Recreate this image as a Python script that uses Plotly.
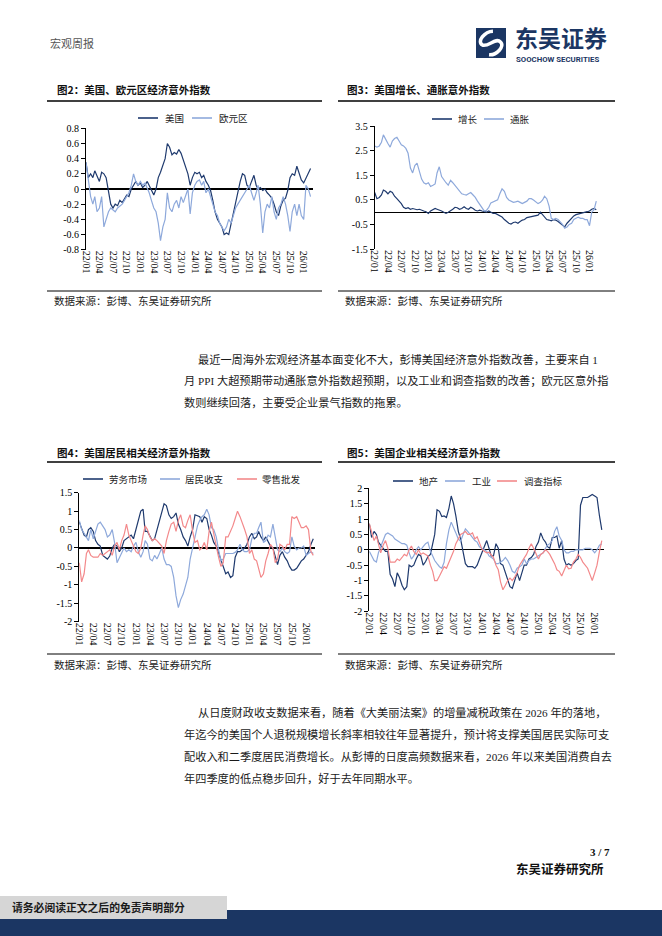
import math
import plotly.graph_objects as go

W, H = 662, 936
DARK = '#1F3A6E'
LIGHT = '#8EA9DB'
PINK = '#F3898B'
NAVY = '#1B3663'
SERIF = 'Liberation Serif, Noto Sans CJK SC, serif'
CJK = 'Noto Sans CJK SC, sans-serif'

# ---------------- data ----------------
dates = []
for i in range(100):
    mm = i // 2
    dates.append(f"{2022 + mm // 12}-{mm % 12 + 1:02d}-{1 if i % 2 == 0 else 16:02d}")

quarter_ticks = ['2022-01-01', '2022-04-01', '2022-07-01', '2022-10-01',
                 '2023-01-01', '2023-04-01', '2023-07-01', '2023-10-01',
                 '2024-01-01', '2024-04-01', '2024-07-01', '2024-10-01',
                 '2025-01-01', '2025-04-01', '2025-07-01', '2025-10-01',
                 '2026-01-01']
quarter_labels = ['22/01', '22/04', '22/07', '22/10', '23/01', '23/04', '23/07', '23/10',
                  '24/01', '24/04', '24/07', '24/10', '25/01', '25/04', '25/07', '25/10',
                  '26/01']

us_surprise = [0.35, 0.15, 0.2, 0.15, 0.24, 0.18, 0.1, 0.22, 0.2, 0.15,
               -0.05, -0.2, -0.25, -0.2, -0.22, -0.15, -0.18, -0.12, -0.08, -0.1,
               0.0, 0.05, 0.1, 0.05, 0.08, 0.02, 0.05, 0.1, 0.05, -0.02,
               -0.08, 0.0, 0.15, 0.22, 0.3, 0.4, 0.6, 0.55, 0.45, 0.48,
               0.46, 0.52, 0.47, 0.38, 0.3, 0.2, 0.05, 0.15, 0.22, 0.2,
               0.22, 0.15, 0.18, 0.1, 0.05, -0.02, -0.15, -0.3, -0.4, -0.45,
               -0.5, -0.6, -0.58, -0.6, -0.45, -0.35, -0.2, -0.05, 0.1, 0.2,
               0.18, 0.05, 0.02, 0.1, 0.18, 0.05, 0.0, 0.02, -0.02, 0.0,
               -0.05, -0.08, -0.12, -0.2, -0.3, -0.35, -0.22, -0.15, -0.12, -0.02,
               0.15, 0.2, 0.18, 0.3, 0.2, 0.12, 0.08, 0.15, 0.2, 0.27]
ea_surprise = [0.35, 0.15, -0.1, -0.2, -0.1, -0.3, -0.25, -0.1, -0.5, -0.4,
               -0.3, -0.25, -0.28, -0.3, -0.25, -0.22, -0.2, -0.15, -0.1, -0.05,
               0.05, 0.2, 0.1, 0.05, 0.1, 0.05, 0.08, 0.02, -0.05, -0.15,
               -0.25, -0.3, -0.45, -0.68, -0.5, -0.4, -0.05, -0.25, -0.3, -0.2,
               -0.15, -0.25, -0.1, -0.18, -0.1, 0.0, -0.33, -0.05, 0.05, 0.1,
               0.12, 0.05, 0.1, -0.05, 0.0, -0.1, -0.2, -0.3, -0.35, -0.45,
               -0.5, -0.55, -0.5, -0.4, -0.45, -0.35, -0.25, -0.2, -0.15, -0.1,
               -0.05, 0.0, 0.05, -0.05, -0.15, -0.05, 0.05, -0.2, -0.58, -0.3,
               -0.2, -0.25, -0.1, -0.3, -0.4, -0.25, -0.2, -0.1, -0.2, -0.35,
               -0.56, -0.3, -0.2, -0.35, -0.2, -0.35, -0.4, 0.05, 0.0, -0.1]
growth = [0.8, 0.55, 0.6, 0.7, 0.9, 0.85, 0.75, 0.85, 0.8, 0.65,
          0.55, 0.45, 0.35, 0.2, 0.15, 0.18, 0.12, 0.15, 0.12, 0.1,
          0.12, 0.1, 0.05, 0.02, -0.05, 0.05, 0.1, 0.15, 0.12, 0.1,
          0.05, 0.0, -0.05, 0.0, 0.05, 0.12, 0.2, 0.18, 0.12, 0.15,
          0.22, 0.15, 0.12, 0.2, 0.15, 0.08, 0.05, 0.08, 0.05, 0.02,
          0.0, 0.05, 0.0, -0.05, -0.05, -0.1, -0.15, -0.2, -0.3, -0.38,
          -0.45, -0.48, -0.42, -0.4, -0.45, -0.38, -0.32, -0.3, -0.22, -0.2,
          -0.18, -0.15, -0.15, -0.12, 0.0, -0.12, -0.2, -0.3, -0.32, -0.35,
          -0.3, -0.32, -0.38, -0.45, -0.55, -0.6, -0.45, -0.35, -0.25, -0.15,
          -0.1, -0.08, -0.05, -0.05, -0.02, 0.02, 0.05, 0.12, 0.15, 0.1]
inflation = [2.7, 2.65, 2.7, 2.85, 3.15, 2.95, 2.8, 2.65, 2.9, 3.0,
             3.05, 2.9, 2.75, 2.7, 2.6, 2.4, 1.8, 1.6, 1.9, 2.0,
             1.7, 1.35, 1.2, 1.15, 1.2, 1.05, 1.1, 1.15, 1.6, 1.85,
             1.45, 1.3, 1.2, 1.1, 1.3, 1.2, 1.1, 1.0, 0.85, 0.75,
             0.72, 0.7, 0.75, 0.8, 0.7, 0.6, 0.45, 0.3, 0.15, 0.05,
             0.08, 0.2, 0.38, 0.42, 0.45, 0.5, 0.75, 0.95, 0.85, 0.6,
             0.5, 0.45, 0.4, 0.42, 0.45, 0.4, 0.35, 0.4, 0.45, 0.55,
             0.55, 0.5, 0.4, 0.35, 0.4, 0.5, 0.65, 0.55, 0.25, -0.25,
             -0.3, -0.25, -0.3, -0.4, -0.5, -0.65, -0.6, -0.5, -0.45, -0.3,
             -0.25, -0.2, -0.25, -0.25, -0.3, -0.3, -0.55, 0.0, 0.1, 0.45]
labor = [0.7, 0.5, 0.35, 0.3, 0.5, 0.55, 0.45, 0.2, 0.1, 0.05,
         -0.2, -0.25, -0.3, -0.22, 0.0, 0.1, 0.05, -0.1, 0.0, 0.2,
         0.25, 0.3, 0.35, 0.25, 0.5, 0.8, 1.0, 1.05, 0.45, 0.45,
         0.3, 0.2, 0.25, 0.5, 0.75, 0.95, 1.2, 1.15, 0.9, 0.8,
         0.85, 0.95, 0.65, 0.5, 0.3, 0.2, 0.05, 0.3, 0.5, 0.9,
         0.88, 0.85, 0.7, 0.85, 0.8, 0.5, 0.35, 0.15, 0.05, -0.15,
         -0.3, -0.55, -0.7, -0.65, -0.8, -0.75, -0.25, -0.1, -0.1, -0.05,
         0.0, 0.1, 0.3, 0.4, 0.25, 0.3, 0.45, 0.3, 0.2, 0.3,
         0.15, 0.05, 0.0, -0.25, -0.45, -0.2, -0.1, -0.25, -0.35, -0.5,
         -0.6, -0.6, -0.55, -0.45, -0.35, -0.3, -0.2, -0.1, 0.1, 0.25]
income = [0.75, 0.5, 0.4, 0.3, 0.2, 0.5, 0.25, 0.45, 0.65, 0.7,
          0.6, 0.5, 0.3, 0.35, 0.5, 0.15, -0.4, -0.25, -0.1, 0.0,
          -0.1, -0.05, -0.1, 0.05, 0.15, -0.1, -0.25, -0.1, 0.2, 0.1,
          -0.3, -0.35, -0.2, -0.3, -0.15, 0.0, -0.3, -0.45, -0.45, -0.5,
          -0.8, -1.3, -1.62, -1.4, -1.25, -1.05, -0.8, -0.3, 0.0, 0.3,
          0.6, 0.75, 0.85, 0.9, 1.05, 0.9, 0.55, 0.5, 0.3, -0.05,
          -0.35, -0.3, -0.15, -0.15, -0.15, -0.15, -0.12, -0.05, 0.1, -0.05,
          -0.1, -0.1, -0.05, 0.25, 0.4, 0.4, 0.55, 0.7, 0.15, 0.2,
          0.35, 0.3, 0.65, 0.3, -0.05, -0.1, 0.0, -0.1, -0.15, -0.1,
          0.3, 0.05, -0.05, 0.0, 0.0, 0.05, -0.2, -0.15, -0.1, -0.15]
retail = [-0.4, -0.92, -0.7, -0.15, -0.05, -0.2, -0.25, -0.25, -0.25, -0.15,
          -0.2, -0.15, -0.1, -0.05, -0.2, 0.05, 0.15, -0.05, 0.2, 0.35,
          0.65, 0.35, 0.2, 0.05, -0.1, -0.15, 0.0, 0.35, 0.6, 0.5,
          0.3, 0.2, 0.25, 0.2, 0.12, 0.05, -0.15, 0.2, 0.45, 0.65,
          0.7, 0.45, 0.75, 0.9, 0.6, 0.55, 0.75, 0.9, 0.45, 0.15,
          0.2, -0.05, 0.0, 0.15, -0.05, 0.45, 0.7, 0.35, 0.05, -0.25,
          -0.5, -0.4, 0.3, 0.3, 0.45, 0.6, 0.8, 1.0, 0.85, 0.7,
          0.5, 0.3, -0.15, -0.05, -0.3, -0.35, -0.55, -0.8, -0.7, -0.35,
          -0.15, 0.1, 0.0, -0.4, -0.3, 0.1, 0.05, -0.05, 0.1, 0.1,
          0.85, 0.8, 0.85, 0.7, 0.55, 0.55, 0.6, 0.5, -0.1, -0.2]
housing = [0.85, 0.4, 0.6, 0.5, 0.25, 0.15, 0.05, -0.05, -0.05, -0.8,
           -0.95, -1.2, -0.75, -0.9, -1.15, -1.3, -1.2, -0.5, -0.55, -0.5,
           -0.3, -0.15, -0.2, -0.5, -0.38, -0.22, -0.15, 0.2, 0.5, 1.3,
           1.25, 1.08, 1.1, 1.05, 1.35, 1.75, 1.5, 1.1, 0.6, 0.35,
           -0.05, -0.45, -0.55, -0.55, -0.55, -0.6, -0.5, -0.3, -0.1, 0.05,
           0.3, 0.05, -0.2, -0.2, 0.2, 0.05, -0.45, -0.5, -0.75, -1.0,
           -1.2, -1.25, -1.0, -0.75, -1.0, -0.7, -0.5, -0.5, -0.3, -0.25,
           -0.15, 0.1, 0.25, 0.55, 0.35, 0.25, 0.1, 0.05, 0.4, 0.4,
           0.45, 0.05, 0.3, -0.3, -0.5, -0.45, -0.5, -0.45, -0.35, -0.3,
           1.45, 1.7, 1.7, 1.7, 1.75, 1.8, 1.75, 1.7, 1.1, 0.65]
industry = [-0.05, -0.2, -0.35, -0.4, -0.1, 0.1, 0.3, 0.5, 0.55, 0.5,
            0.45, 0.35, 0.3, 0.25, 0.2, 0.2, 0.15, -0.1, -0.3, -0.2,
            0.0, 0.1, 0.0, 0.1, 0.2, 0.25, -0.05, -0.2, -0.35, -0.45,
            -0.55, -0.6, -0.4, 0.2, 0.65, 0.9, 0.75, 0.55, 0.35, 0.28,
            0.5, 0.68, 0.6, 0.5, 0.4, 0.3, 0.25, 0.1, 0.05, 0.0,
            -0.05, -0.2, -0.25, -0.3, -0.45, -0.45, -0.4, -0.35, -0.25, -0.35,
            -0.5, -0.7, -0.75, -0.6, -0.55, -0.5, -0.3, -0.45, -0.35, -0.3,
            -0.3, -0.25, -0.2, -0.15, -0.1, 0.05, 0.15, 0.2, 0.3, 0.6,
            0.75, 0.45, 0.3, 0.0, -0.1, -0.1, -0.05, -0.05, 0.0, 0.0,
            0.0, 0.0, 0.05, 0.05, 0.05, 0.0, -0.1, 0.0, 0.15, 0.2]
survey = [0.85, 0.55, 0.3, 0.45, 0.2, -0.1, 0.15, 0.3, 0.05, -0.4,
          -0.4, -0.4, -0.3, -0.35, -0.25, -0.15, -0.2, 0.0, 0.12, -0.05,
          -0.15, 0.0, -0.15, -0.1, -0.15, -0.2, -0.5, -0.7, -1.0, -1.0,
          -0.85, -0.7, -0.55, -0.6, -0.4, -0.25, -0.05, 0.2, 0.38, 0.5,
          0.55, 0.6, 0.5, 0.5, 0.55, 0.35, 0.42, 0.2, 0.02, -0.05,
          -0.1, -0.08, -0.15, -0.25, -0.5, -0.65, -1.05, -1.3, -1.15, -1.0,
          -0.92, -1.0, -0.88, -0.75, -0.5, -0.38, -0.3, -0.15, 0.05, 0.2,
          0.05, -0.15, -0.3, -0.15, -0.1, 0.0, -0.05, -0.15, -0.3, -0.45,
          -0.65, -0.7, -0.85, -0.65, -0.5, -0.62, -0.6, -0.4, -0.3, -0.15,
          -0.25, -0.4, -0.5, -0.6, -0.8, -1.0, -0.75, -0.5, -0.05, 0.3]

yt2 = [-0.8, -0.6, -0.4, -0.2, 0, 0.2, 0.4, 0.6, 0.8]
yl2 = ['-0.8', '-0.6', '-0.4', '-0.2', '0', '0.2', '0.4', '0.6', '0.8']
yt3 = [-1.5, -0.5, 0.5, 1.5, 2.5, 3.5]
yl3 = ['-1.5', '-0.5', '0.5', '1.5', '2.5', '3.5']
yt4 = [-2, -1.5, -1, -0.5, 0, 0.5, 1, 1.5]
yl4 = ['-2', '-1.5', '-1', '-0.5', '0', '0.5', '1', '1.5']
yt5 = [-2, -1.5, -1, -0.5, 0, 0.5, 1, 1.5, 2]
yl5 = ['-2', '-1.5', '-1', '-0.5', '0', '0.5', '1', '1.5', '2']

# ---------------- layout helpers ----------------
def X(px):
    return px / W


def Y(py):
    return 1 - py / H


X_RANGE = ['2022-01-01', '2026-03-01']

charts = [
    dict(x0=86, pxm=4.53, y0=128.3, y1=249.7, yr=[-0.8, 0.8], yt=yt2, yl=yl2,
         series=[(us_surprise, '美国', DARK), (ea_surprise, '欧元区', LIGHT)],
         legend_y=118, legend=[(138, 163), (192, 217)],
         title=(55, 89, '图2：美国、欧元区经济意外指数')),
    dict(x0=374.7, pxm=4.47, y0=126.3, y1=249.0, yr=[-1.5, 3.5], yt=yt3, yl=yl3,
         series=[(growth, '增长', DARK), (inflation, '通胀', LIGHT)],
         legend_y=119, legend=[(432, 456), (484, 508)],
         title=(345, 89, '图3：美国增长、通胀意外指数')),
    dict(x0=79.3, pxm=4.72, y0=492.7, y1=621.7, yr=[-2, 1.5], yt=yt4, yl=yl4,
         series=[(labor, '劳务市场', DARK), (income, '居民收支', LIGHT), (retail, '零售批发', PINK)],
         legend_y=479, legend=[(83, 107), (160, 183), (237, 260)],
         title=(55, 452, '图4：美国居民相关经济意外指数')),
    dict(x0=369.3, pxm=4.69, y0=488.3, y1=611.3, yr=[-2, 2], yt=yt5, yl=yl5,
         series=[(housing, '地产', DARK), (industry, '工业', LIGHT), (survey, '调查指标', PINK)],
         legend_y=481, legend=[(393, 417), (445, 470), (497, 522)],
         title=(345, 452, '图5：美国企业相关经济意外指数')),
]

fig = go.Figure()
layout_axes = {}
shapes = []
annotations = []


def line_shape(x0, y0, x1, y1, color='black', width=1.0):
    return dict(type='line', xref='paper', yref='paper', x0=X(x0), y0=Y(y0), x1=X(x1), y1=Y(y1),
                line=dict(color=color, width=width))


def text(px, py, s, size, color='#111', family=CJK, anchor='left', weight='normal'):
    return dict(x=X(px), y=Y(py), xref='paper', yref='paper', text=s, showarrow=False,
                xanchor=anchor, yanchor='middle', font=dict(size=size, color=color, family=family, weight=weight))


tick_font = dict(size=10, family=SERIF, color='black')

for i, c in enumerate(charts):
    n = i + 1
    xk = 'xaxis' if n == 1 else f'xaxis{n}'
    yk = 'yaxis' if n == 1 else f'yaxis{n}'
    xr = 'x' if n == 1 else f'x{n}'
    yr = 'y' if n == 1 else f'y{n}'
    x1 = c['x0'] + 50 * c['pxm']
    xd = [X(c['x0']), X(x1)]
    yd = [Y(c['y1']), Y(c['y0'])]
    layout_axes[xk] = dict(type='date', domain=xd, range=X_RANGE, anchor=yr, showline=False,
                           ticks='', tickvals=quarter_ticks, ticktext=quarter_labels, tickangle=90,
                           tickfont=tick_font, showgrid=False, zeroline=False, fixedrange=True,
                           automargin=False)
    layout_axes[yk] = dict(domain=yd, range=c['yr'], anchor=xr, showline=True, linecolor='black',
                           linewidth=1, ticks='outside', ticklen=4, tickcolor='black', tickwidth=1,
                           tickvals=c['yt'], ticktext=c['yl'], tickfont=tick_font, showgrid=False,
                           zeroline=True, zerolinecolor='black', zerolinewidth=1.3, fixedrange=True,
                           automargin=False)
    zero_py = c['y0'] + (c['yr'][1] - 0) / (c['yr'][1] - c['yr'][0]) * (c['y1'] - c['y0'])
    layout_axes[f'xaxis{n + 4}'] = dict(type='date', overlaying=xr, anchor='free',
                                        position=Y(zero_py - 3), range=X_RANGE, domain=xd,
                                        ticks='outside', ticklen=6, tickwidth=1, tickcolor='black',
                                        tickvals=quarter_ticks, showticklabels=False, showline=False,
                                        showgrid=False, zeroline=False, fixedrange=True, automargin=False)
    for (vals, name, color) in c['series']:
        fig.add_trace(go.Scatter(x=dates, y=vals, name=name, mode='lines', xaxis=xr, yaxis=yr,
                                 line=dict(color=color, width=1.2), showlegend=False, hoverinfo='skip'))
    # legend
    for (sx, tx), (_, name, color) in zip(c['legend'], c['series']):
        shapes.append(line_shape(sx, c['legend_y'], sx + 20, c['legend_y'], color=color, width=1.6))
        annotations.append(text(tx, c['legend_y'], name, 9.5, color='#222'))
    # title
    tx, ty, ts = c['title']
    annotations.append(text(tx, ty, ts, 10.5, color='#111', weight='bold'))

# rules under titles and above sources
for (a, b) in [(47, 322), (338, 615)]:
    shapes.append(line_shape(a, 101, b, 101, width=1.3))
    shapes.append(line_shape(a, 291, b, 291, width=1.0))
    shapes.append(line_shape(a, 462, b, 462, width=1.3))
    shapes.append(line_shape(a, 654, b, 654, width=1.0))

source = '数据来源：彭博、东吴证券研究所'
for (sx, sy) in [(52, 300), (343, 300), (52, 664), (343, 664)]:
    annotations.append(text(sx, sy, source, 10.5, color='#222'))

# body text
para1 = [(196, 359, '最近一周海外宏观经济基本面变化不大，彭博美国经济意外指数改善，主要来自 1'),
         (182, 380.5, '月 PPI 大超预期带动通胀意外指数超预期，以及工业和调查指数的改善；欧元区意外指'),
         (182, 402, '数则继续回落，主要受企业景气指数的拖累。')]
para2 = [(196, 712, '从日度财政收支数据来看，随着《大美丽法案》的增量减税政策在 2026 年的落地，'),
         (182, 734, '年迄今的美国个人退税规模增长斜率相较往年显著提升，预计将支撑美国居民实际可支'),
         (182, 756, '配收入和二季度居民消费增长。从彭博的日度高频数据来看，2026 年以来美国消费自去'),
         (182, 778, '年四季度的低点稳步回升，好于去年同期水平。')]
for (bx, by, s) in para1 + para2:
    annotations.append(text(bx, by, s, 11.2, color='#1a1a1a', family=SERIF))

# header
annotations.append(text(48, 43, '宏观周报', 11, color='#555'))
shapes.append(dict(type='rect', xref='paper', yref='paper', x0=X(476), x1=X(506), y0=Y(58), y1=Y(28),
                   fillcolor=NAVY, line=dict(width=0)))
# stylised S mark inside the logo square
s_pts = [(0.85, 0.2), (0.6, 0.0), (0.1, 0.1), (0.2, 0.35), (0.3, 0.55), (0.8, 0.45), (0.8, 0.7),
         (0.85, 0.95), (0.35, 1.0), (0.15, 0.8)]
ang = math.radians(-40)
conv = []
for (u, v) in s_pts:
    du, dv = u - 0.5, v - 0.5
    ru = 0.5 + du * math.cos(ang) - dv * math.sin(ang)
    rv = 0.5 + du * math.sin(ang) + dv * math.cos(ang)
    conv.append((X(476 + 2 + ru * 26), Y(28 + 2 + rv * 26)))
p = f"M {conv[0][0]:.5f},{conv[0][1]:.5f}"
for k in range(1, len(conv), 3):
    a, b, cc = conv[k], conv[k + 1], conv[k + 2]
    p += f" C {a[0]:.5f},{a[1]:.5f} {b[0]:.5f},{b[1]:.5f} {cc[0]:.5f},{cc[1]:.5f}"
shapes.append(dict(type='path', xref='paper', yref='paper', path=p, line=dict(color='white', width=3.5)))
annotations.append(text(513, 37.5, '东吴证券', 23, color=NAVY, weight='bold'))
annotations.append(text(514, 59.5, 'SOOCHOW SECURITIES', 7.8, color=NAVY, family='Roboto, sans-serif', weight='bold'))

# footer
annotations.append(text(612, 852, '3 / 7', 11, color='#111', family=SERIF, anchor='right', weight='bold'))
annotations.append(text(606, 868, '东吴证券研究所', 12.5, color='#111', family=CJK, anchor='right', weight='bold'))
shapes.append(dict(type='rect', xref='paper', yref='paper', x0=0, x1=1, y0=0, y1=Y(910),
                   fillcolor=NAVY, line=dict(width=0)))
shapes.append(dict(type='rect', xref='paper', yref='paper', x0=0, x1=X(227), y0=Y(919), y1=Y(896),
                   fillcolor='#D6D6D6', line=dict(width=0)))
annotations.append(text(10, 907, '请务必阅读正文之后的免责声明部分', 10.8, color='#1a1a1a', weight='bold'))

fig.update_layout(
    width=W, height=H, autosize=False, template='none',
    margin=dict(l=0, r=0, t=0, b=0, pad=0),
    paper_bgcolor='white', plot_bgcolor='rgba(0,0,0,0)',
    font=dict(family=SERIF, size=10, color='black'),
    showlegend=False, hovermode=False,
    shapes=shapes, annotations=annotations,
    **layout_axes,
)

fig.write_html('out.html', config={'displayModeBar': False, 'staticPlot': True},
               post_script="document.body.style.margin='0';document.body.style.overflow='hidden';")
